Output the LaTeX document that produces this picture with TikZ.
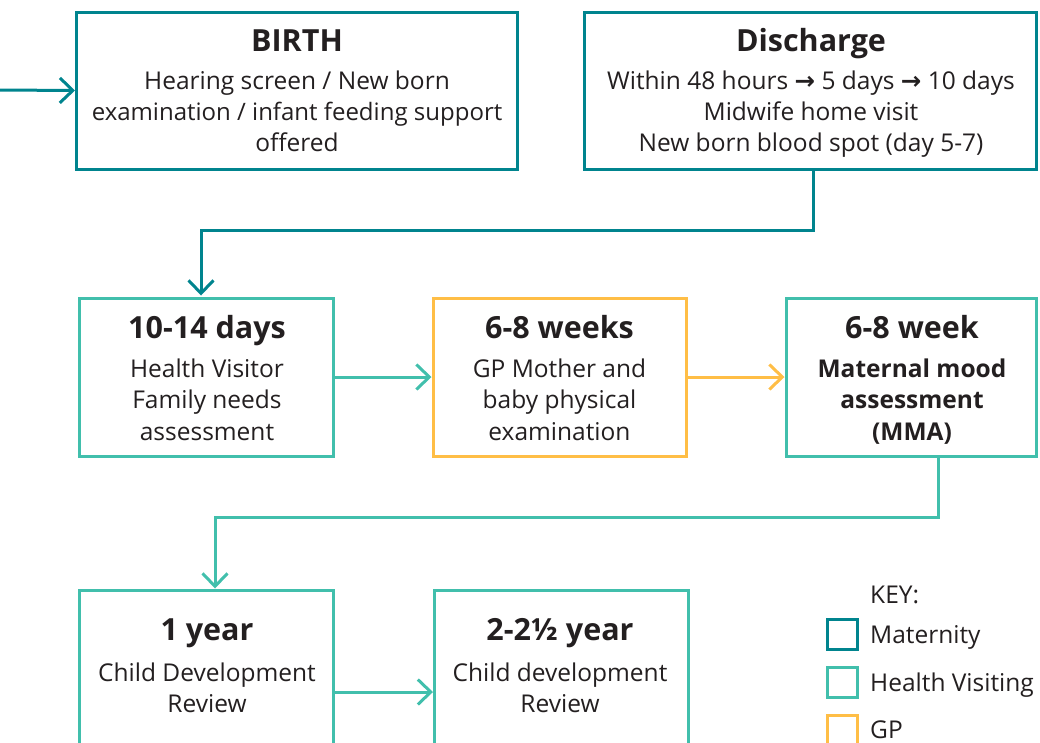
\documentclass[tikz,border=0pt]{standalone}
\usepackage{fontspec}
\setmainfont{Open Sans}
\newfontfamily\symfont{DejaVu Sans}
\usetikzlibrary{arrows.meta}
\definecolor{matc}{HTML}{00848E}
\definecolor{hvc}{HTML}{41BFAC}
\definecolor{gpc}{HTML}{FFBE46}
\definecolor{txt}{HTML}{231F20}
\newcommand{\rar}{{\symfont\bfseries →}}
\begin{document}
\begin{tikzpicture}[x=1pt,y=-1pt,
  box/.style={draw, line width=3pt, rectangle, inner sep=0pt},
  matbox/.style={box, draw=matc},
  hvbox/.style={box, draw=hvc},
  gpbox/.style={box, draw=gpc},
  ln/.style={anchor=base, inner sep=0pt, text=txt, font=\fontsize{24.5}{30}\selectfont},
  lnb/.style={ln, font=\fontsize{24.5}{30}\selectfont\bfseries},
  ttl/.style={ln, font=\fontsize{30.5}{36}\selectfont\bfseries},
  conn/.style={line width=3pt, -{Straight Barb[length=13pt,width=25pt]}},
  keybox/.style={draw, line width=3pt, minimum size=30pt, inner sep=0pt},
  keytxt/.style={anchor=base west, inner sep=0pt, text=txt, font=\fontsize{24.5}{30}\selectfont}]
\useasboundingbox (0,0) rectangle (1040,742);
\clip (0,0) rectangle (1040,742);
% ---------- row 1 (Maternity)
\node[matbox, minimum width=441pt, minimum height=157pt] (birth) at (297,90.5) {};
\node[ttl] (birth-t) at (297,51) {BIRTH};
\node[ln] (birth-1) at (297,89) {Hearing screen / New born};
\node[ln, font=\fontsize{24}{30}\selectfont] (birth-2) at (297,120) {examination / infant feeding support};
\node[ln] (birth-3) at (297,151) {offered};
\node[matbox, minimum width=452pt, minimum height=157pt] (dis) at (810,90.5) {};
\node[ttl] (dis-t) at (811,51) {Discharge};
\node[ln] (dis-1) at (811,89) {Within 48 hours \rar{} 5 days \rar{} 10 days};
\node[ln] (dis-2) at (811,120) {Midwife home visit};
\node[ln] (dis-3) at (811,151) {New born blood spot (day 5-7)};
\coordinate (in) at (0,90);
\draw[conn, matc] (in) -- (birth.west);
\coordinate (c1) at (201,230);
\draw[conn, matc] ([xshift=3pt]dis.south) |- (c1) -- (c1 |- 0,295.5);
% ---------- row 2
\node[hvbox, minimum width=254pt, minimum height=158pt] (d1014) at (206,377) {};
\node[ttl] (d1014-t) at (207,338) {10-14 days};
\node[ln] (d1014-1) at (207,377) {Health Visitor};
\node[ln] (d1014-2) at (207,408) {Family needs};
\node[ln] (d1014-3) at (207,440) {assessment};
\node[gpbox, minimum width=253pt, minimum height=158pt] (gp) at (559.5,377) {};
\node[ttl] (gp-t) at (559.5,338) {6-8 weeks};
\node[ln] (gp-1) at (559.5,377) {GP Mother and};
\node[ln] (gp-2) at (559.5,408) {baby physical};
\node[ln] (gp-3) at (559.5,440) {examination};
\node[hvbox, minimum width=250pt, minimum height=158pt] (mma) at (911,377) {};
\node[ttl] (mma-t) at (912,338) {6-8 week};
\node[lnb] (mma-1) at (912,377) {Maternal mood};
\node[lnb] (mma-2) at (912,408) {assessment};
\node[lnb] (mma-3) at (912,440) {(MMA)};
\draw[conn, hvc] (d1014.east) -- (gp.west);
\draw[conn, gpc] (gp.east) -- (mma.west);
\coordinate (c2) at (215,517);
\draw[conn, hvc] ([xshift=27pt]mma.south) |- (c2) -- (c2 |- 0,588.5);
% ---------- row 3
\node[hvbox, minimum width=254pt, minimum height=170pt] (y1) at (206,675) {};
\node[ttl] (y1-t) at (207,640) {1 year};
\node[ln] (y1-1) at (207,681) {Child Development};
\node[ln] (y1-2) at (207,712) {Review};
\node[hvbox, minimum width=254pt, minimum height=170pt] (y2) at (561.5,675) {};
\node[ttl] (y2-t) at (560,640) {2-2½ year};
\node[ln] (y2-1) at (560,681) {Child development};
\node[ln] (y2-2) at (560,712) {Review};
\draw[conn, hvc] ([yshift=-17pt]y1.east) -- ([yshift=-17pt]y1.east -| y2.west);
% ---------- key
\node[keytxt] (key) at (870,603) {KEY:};
\node[keybox, draw=matc] (k1) at (842,634.5) {};
\node[keytxt] (k1t) at (870,643) {Maternity};
\node[keybox, draw=hvc] (k2) at (842,682.5) {};
\node[keytxt] (k2t) at (870,691) {Health Visiting};
\node[keybox, draw=gpc] (k3) at (842,730) {};
\node[keytxt] (k3t) at (870,738) {GP};
\end{tikzpicture}
\end{document}
